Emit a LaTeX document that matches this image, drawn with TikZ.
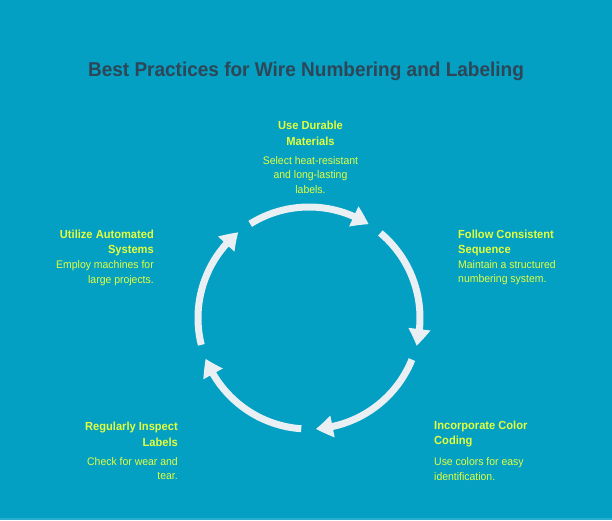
\documentclass[tikz,border=0pt]{standalone}
\usepackage{fontspec}
\setmainfont{Liberation Sans}[FakeStretch=0.95]
\usetikzlibrary{arrows.meta,bending}
\definecolor{bg}{HTML}{03A0C4}
\definecolor{bgedge}{HTML}{2AAED0}
\definecolor{ttl}{HTML}{2E4656}
\definecolor{ylw}{HTML}{E4FF3C}
\definecolor{arr}{HTML}{E9EFF2}
\tikzset{
  heading/.style={text=ylw, inner sep=0pt, font=\bfseries\fontsize{11.7}{15.8}\selectfont},
  desc/.style={text=ylw, inner sep=0pt, font=\fontsize{11}{14.5}\selectfont},
  cyclearc/.style={draw=arr, line width=7pt, -{Triangle[length=17pt,width=21pt,bend]}}
}
\begin{document}
\begin{tikzpicture}[x=1pt,y=-1pt]
\useasboundingbox (0,0) rectangle (612,520);
\fill[bg] (0,0) rectangle (612,520);
\fill[bgedge] (0,518) rectangle (612,520);
\node[text=ttl, inner sep=0pt, font=\bfseries\fontsize{20}{24}\selectfont] (title) at (306,71) {Best Practices for Wire Numbering and Labeling};
\coordinate (ctr) at (309,318);
\foreach \c in {90,18,-54,-126,-198} {
  \draw[cyclearc] (ctr) ++({-(\c+32)}:111) arc[start angle={-(\c+32)}, end angle={-(\c-32.5)}, radius=111];
}
% top
\node[heading, align=center] (h1) at (310.5,133) {Use Durable\\Materials};
\node[desc, align=center] (d1) at (310.5,175) {Select heat-resistant\\and long-lasting\\labels.};
% right top
\node[heading, align=left, anchor=west] (h2) at (458,243) {Follow Consistent\\Sequence};
\node[desc, align=left, anchor=west] (d2) at (458,272.5) {Maintain a structured\\numbering system.};
% right bottom
\node[heading, align=left, anchor=west] (h3) at (434,434) {Incorporate Color\\Coding};
\node[desc, align=left, anchor=west] (d3) at (434,469) {Use colors for easy\\identification.};
% left bottom
\node[heading, align=right, anchor=east] (h4) at (178,434) {Regularly Inspect\\Labels};
\node[desc, align=right, anchor=east] (d4) at (178,468.5) {Check for wear and\\tear.};
% left top
\node[heading, align=right, anchor=east] (h5) at (154,243) {Utilize Automated\\Systems};
\node[desc, align=right, anchor=east] (d5) at (154,273) {Employ machines for\\large projects.};
\end{tikzpicture}
\end{document}
